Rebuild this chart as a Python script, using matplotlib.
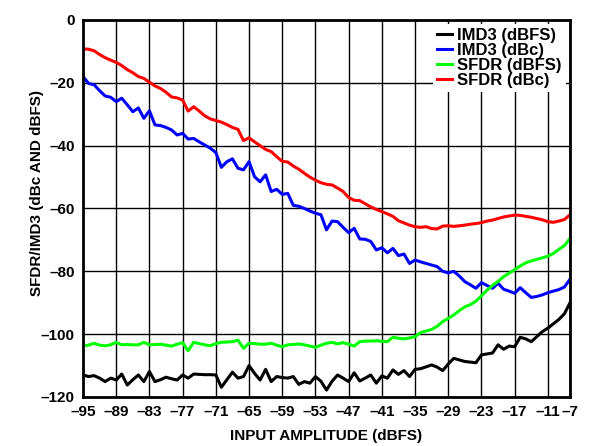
import matplotlib.pyplot as plt
import numpy as np

plt.rcParams['font.family'] = ['Liberation Sans', 'DejaVu Sans']
plt.rcParams['font.weight'] = 'bold'
plt.rcParams['axes.unicode_minus'] = True

# input amplitude, -95 .. -7 dBFS in 1 dB steps
amp = np.arange(-95, -6, 1)

imd3_dbfs = [-113.0, -113.5, -113.2, -114.0, -115.1, -114.0, -114.6, -112.7, -116.2, -114.5,
             -113.0, -115.1, -111.9, -115.1, -114.5, -113.7, -114.2, -114.6, -113.0, -114.0,
             -112.7, -112.8, -112.9, -112.9, -113.0, -116.9, -114.5, -112.1, -114.0, -113.5,
             -110.0, -112.5, -114.6, -111.2, -115.1, -113.5, -113.8, -114.0, -113.5, -116.0,
             -115.1, -115.6, -113.5, -115.0, -117.8, -115.0, -113.0, -114.0, -115.1, -112.3,
             -114.9, -114.0, -113.0, -115.6, -113.3, -114.0, -111.4, -112.8, -111.6, -113.5,
             -111.2, -111.0, -110.4, -109.8, -110.5, -111.6, -109.5, -107.7, -108.2, -108.7,
             -108.9, -109.1, -106.6, -106.3, -106.0, -103.4, -104.8, -103.8, -104.0, -101.0,
             -101.5, -102.4, -100.8, -99.2, -98.1, -96.7, -95.3, -93.5, -90.0]

imd3_dbc = [-18.0, -20.2, -20.6, -22.5, -24.2, -24.6, -26.0, -24.9, -27.0, -29.2,
            -28.0, -31.3, -28.9, -33.4, -33.6, -34.2, -35.0, -36.6, -36.1, -37.9,
            -37.7, -38.8, -39.8, -40.8, -42.2, -46.9, -45.1, -44.2, -47.2, -47.7,
            -45.1, -49.9, -51.5, -49.3, -54.6, -53.9, -55.5, -55.2, -59.0, -59.3,
            -60.0, -60.8, -61.5, -62.0, -66.8, -64.0, -64.2, -66.0, -67.7, -66.3,
            -69.7, -69.8, -70.5, -73.2, -72.5, -74.1, -72.7, -75.0, -74.5, -77.5,
            -76.4, -77.0, -77.5, -78.0, -78.5, -80.0, -80.5, -80.0, -81.5, -83.3,
            -84.3, -85.4, -83.6, -84.5, -85.4, -83.8, -85.7, -86.3, -87.0, -85.2,
            -86.8, -88.3, -88.0, -87.5, -86.8, -86.3, -85.8, -85.0, -82.5]

sfdr_dbfs = [-103.7, -103.5, -102.9, -103.5, -103.7, -103.4, -102.6, -103.4, -103.3, -103.4,
             -103.4, -102.6, -103.4, -103.3, -103.2, -103.5, -103.8, -103.2, -102.7, -105.3,
             -102.6, -103.0, -103.4, -103.7, -103.0, -102.6, -102.5, -102.4, -101.9, -104.5,
             -102.9, -103.0, -103.2, -103.2, -102.9, -103.5, -104.0, -103.4, -103.3, -103.1,
             -103.4, -103.8, -104.2, -103.5, -102.9, -102.6, -103.1, -102.7, -103.2, -103.8,
             -102.4, -102.2, -102.2, -102.1, -102.3, -102.4, -101.0, -101.3, -101.5, -101.2,
             -100.8, -99.5, -99.0, -98.5, -97.5, -96.0, -95.0, -93.9, -92.5, -91.3,
             -90.6, -89.5, -87.8, -86.0, -84.5, -83.2, -81.7, -80.6, -79.5, -78.3,
             -77.3, -76.7, -76.2, -75.7, -75.2, -74.3, -73.0, -71.8, -69.5]

sfdr_dbc = [-9.2, -9.3, -9.8, -11.0, -12.0, -12.8, -13.5, -14.5, -15.8, -16.8,
            -18.0, -18.6, -19.8, -21.0, -21.8, -23.0, -24.5, -24.8, -25.5, -29.0,
            -27.6, -29.0, -30.5, -31.5, -32.0, -32.5, -33.3, -34.2, -34.8, -38.4,
            -37.5, -38.8, -40.0, -41.2, -41.9, -43.5, -45.0, -45.2, -46.5, -47.5,
            -48.8, -50.0, -51.0, -51.8, -52.3, -52.5, -53.5, -54.6, -56.5, -57.4,
            -57.5, -58.5, -59.5, -60.3, -61.0, -61.7, -62.5, -63.9, -64.6, -65.3,
            -65.8, -66.0, -65.8, -66.4, -66.5, -65.6, -65.5, -65.7, -65.5, -65.3,
            -65.0, -64.8, -64.5, -64.0, -63.7, -63.2, -62.7, -62.4, -62.1, -62.2,
            -62.5, -62.8, -63.2, -63.6, -64.2, -64.4, -64.0, -63.5, -62.0]

xticks = [-95, -89, -83, -77, -71, -65, -59, -53, -47, -41, -35, -29, -23, -17, -11, -7]
yticks = [-120, -100, -80, -60, -40, -20, 0]

fig = plt.figure(figsize=(5.9, 4.46), dpi=100)
ax = fig.add_axes([0.1407, 0.1099, 0.8254, 0.8453])

ax.plot(amp, imd3_dbfs, color='black', lw=2.2, label='IMD3 (dBFS)')
ax.plot(amp, imd3_dbc, color='#0000ff', lw=2.2, label='IMD3 (dBc)')
ax.plot(amp, sfdr_dbfs, color='#00ff00', lw=2.2, label='SFDR (dBFS)')
ax.plot(amp, sfdr_dbc, color='#ff0000', lw=2.2, label='SFDR (dBc)')

ax.set_xlim(-95, -7)
ax.set_ylim(-120, 0)
ax.set_xticks(xticks)
ax.set_yticks(yticks)
ax.set_xticklabels([str(t).replace('-', '\u2013') for t in xticks], fontsize=11, fontweight='bold')
ax.set_yticklabels([str(t).replace('-', '\u2013') for t in yticks], fontsize=11, fontweight='bold')
ax.tick_params(length=0, pad=6)
ax.grid(True, color='black', lw=1.0)
ax.set_axisbelow(True)
for s in ax.spines.values():
    s.set_linewidth(2)

ax.set_xlabel('INPUT AMPLITUDE (dBFS)', fontsize=11, fontweight='bold')
ax.xaxis.set_label_coords(0.5, -0.104, transform=ax.transAxes)
ax.xaxis.label.set_va('center')
ax.set_ylabel('SFDR/IMD3 (dBc AND dBFS)', fontsize=11, fontweight='bold')
ax.yaxis.set_label_coords(-0.095, 0.54)
ax.yaxis.label.set_va('center')

leg = ax.legend(loc='upper right', fontsize=12, handlelength=0.9, handletextpad=0.3,
                labelspacing=0.0, borderpad=0.25, borderaxespad=0.25, frameon=True,
                framealpha=1, fancybox=False)
leg.get_frame().set_edgecolor('none')
for t in leg.get_texts():
    t.set_fontweight('bold')

fig.savefig('out.png', dpi=100)
